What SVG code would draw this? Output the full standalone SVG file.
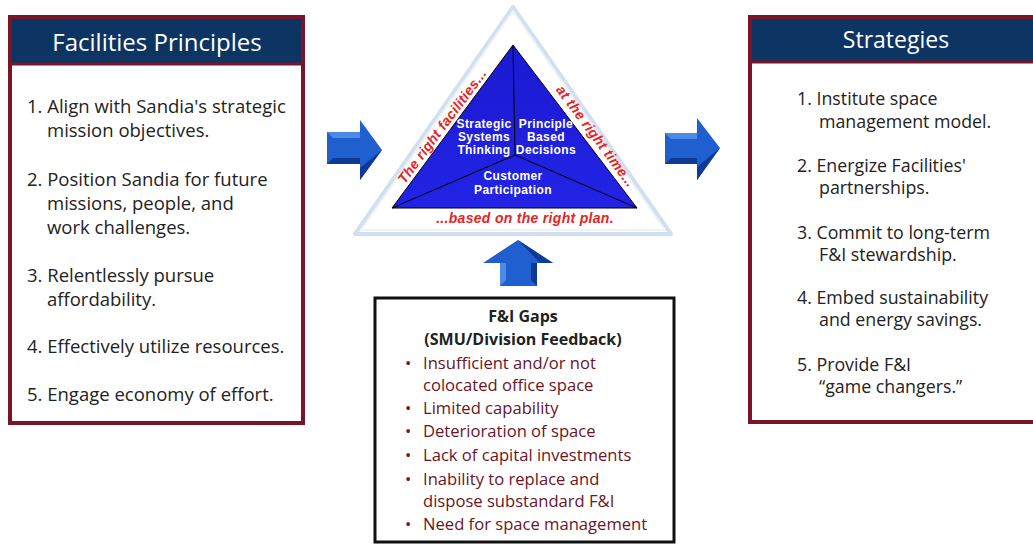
<svg xmlns="http://www.w3.org/2000/svg" width="1033" height="548" viewBox="0 0 1033 548">
<defs>
<style>
.box{fill:#fff;stroke:#7a1428;stroke-width:4}
.hdr{fill:#0d3563}
.sep{stroke:#7a1428;stroke-width:3}
.ht{font-family:"Open Sans","Liberation Sans",sans-serif;fill:#fff;text-anchor:middle}
.it{font-family:"Open Sans","Liberation Sans",sans-serif;font-size:18.5px;fill:#222}
.is{font-family:"Open Sans","Liberation Sans",sans-serif;font-size:17.8px;fill:#222}
.gt{font-family:"Open Sans","Liberation Sans",sans-serif;font-size:16.6px;fill:#6a1426}
.gh{font-family:"Open Sans","Liberation Sans",sans-serif;font-size:16px;font-weight:bold;fill:#222;text-anchor:middle}
.wt{font-family:"Liberation Sans",Arial,sans-serif;font-size:12px;letter-spacing:0.4px;font-weight:bold;fill:#fff;text-anchor:middle}
.rt{font-family:"Liberation Sans",Arial,sans-serif;font-size:14px;letter-spacing:0.3px;font-weight:bold;font-style:italic;fill:#e8231e;text-anchor:middle}
.af{fill:#1f5fd0}
.ad{fill:#0d3a94}
.al{fill:#4d8ae8}
</style>
<linearGradient id="tri" x1="0" y1="0" x2="0" y2="1">
<stop offset="0" stop-color="#1a1ad0"/>
<stop offset="1" stop-color="#2323e6"/>
</linearGradient>
</defs>

<g id="principles">
<rect class="box" x="10" y="17" width="293" height="406"/>
<rect class="hdr" x="12" y="19" width="289" height="44"/>
<line class="sep" x1="12" y1="64" x2="301" y2="64"/>
<text class="ht" x="157" y="51" font-size="24">Facilities Principles</text>
<text class="it" x="27" y="113">1. Align with Sandia's strategic</text>
<text class="it" x="47" y="137">mission objectives.</text>
<text class="it" x="27" y="186">2. Position Sandia for future</text>
<text class="it" x="47" y="210">missions, people, and</text>
<text class="it" x="47" y="234">work challenges.</text>
<text class="it" x="27" y="282">3. Relentlessly pursue</text>
<text class="it" x="47" y="306">affordability.</text>
<text class="it" x="27" y="353">4. Effectively utilize resources.</text>
<text class="it" x="27" y="401">5. Engage economy of effort.</text>
</g>

<g id="strategies">
<rect class="box" x="750" y="17" width="290" height="405"/>
<rect class="hdr" x="752" y="19" width="286" height="42"/>
<line class="sep" x1="752" y1="62" x2="1038" y2="62"/>
<text class="ht" x="896" y="48" font-size="23">Strategies</text>
<text class="is" x="797" y="105">1. Institute space</text>
<text class="is" x="819" y="128">management model.</text>
<text class="is" x="797" y="172">2. Energize Facilities'</text>
<text class="is" x="819" y="194">partnerships.</text>
<text class="is" x="797" y="239">3. Commit to long-term</text>
<text class="is" x="819" y="261">F&amp;I stewardship.</text>
<text class="is" x="797" y="304">4. Embed sustainability</text>
<text class="is" x="819" y="326">and energy savings.</text>
<text class="is" x="797" y="371">5. Provide F&amp;I</text>
<text class="is" x="819" y="393">“game changers.”</text>
</g>

<g id="triangle">
<polygon points="513,7 355,234 671,234" fill="#fff" stroke="#d2dfee" stroke-width="4" stroke-linejoin="round"/>
<polygon points="513,11 361,230 665,230" fill="none" stroke="#eef3f9" stroke-width="2" stroke-linejoin="round"/>
<polygon points="513,45 392,208 637,208" fill="url(#tri)" stroke="#000" stroke-width="1"/>
<g stroke="#000" stroke-width="1">
<line x1="515" y1="155" x2="513" y2="45"/>
<line x1="515" y1="155" x2="392" y2="208"/>
<line x1="515" y1="155" x2="637" y2="208"/>
</g>
<text class="wt" x="484" y="128">Strategic</text>
<text class="wt" x="484" y="141">Systems</text>
<text class="wt" x="484" y="154">Thinking</text>
<text class="wt" x="546" y="128">Principle</text>
<text class="wt" x="546" y="141">Based</text>
<text class="wt" x="546" y="154">Decisions</text>
<text class="wt" x="513" y="180">Customer</text>
<text class="wt" x="513" y="194">Participation</text>
<text class="rt" transform="translate(446,129) rotate(-53.4)">The right facilities...</text>
<text class="rt" transform="translate(592,139) rotate(53.4)">at the right time...</text>
<text class="rt" x="525" y="223">...based on the right plan.</text>
</g>

<g id="gaps">
<rect x="375" y="298" width="299" height="244" fill="#fff" stroke="#111" stroke-width="3"/>
<text class="gh" x="523" y="322">F&amp;I Gaps</text>
<text class="gh" x="523" y="345">(SMU/Division Feedback)</text>
<g class="gt">
<text x="405" y="369">•</text><text x="423" y="369">Insufficient and/or not</text>
<text x="423" y="391">colocated office space</text>
<text x="405" y="414">•</text><text x="423" y="414">Limited capability</text>
<text x="405" y="437">•</text><text x="423" y="437">Deterioration of space</text>
<text x="405" y="461">•</text><text x="423" y="461">Lack of capital investments</text>
<text x="405" y="485">•</text><text x="423" y="485">Inability to replace and</text>
<text x="423" y="507">dispose substandard F&amp;I</text>
<text x="405" y="530">•</text><text x="423" y="530">Need for space management</text>
</g>
</g>

<g id="connectors">
<g id="arrow-left">
<polygon class="af" points="327,132 360,132 360,120 382,150 360,180 360,164 327,164"/>
<polygon class="ad" points="360,164 327,164 333,158 360,158"/>
<polygon class="ad" points="382,150 360,180 360,168"/>
<polygon class="al" points="327,132 360,132 360,138 333,138"/>
</g>
<g id="arrow-right">
<polygon class="af" points="665,133 697,133 697,118 720,148 697,180 697,164 665,164"/>
<polygon class="ad" points="697,164 665,164 671,158 697,158"/>
<polygon class="ad" points="720,148 697,180 697,167"/>
<polygon class="al" points="665,133 697,133 697,139 671,139"/>
</g>
<g id="arrow-up">
<polygon class="af" points="518,240 553,263 537,263 537,286 500,286 500,263 483,263"/>
<polygon class="ad" points="537,263 537,286 531,280 531,263"/>
<polygon class="ad" points="518,240 553,263 540,263"/>
<polygon class="al" points="500,263 500,286 506,280 506,263"/>
</g>
</g>
</svg>
